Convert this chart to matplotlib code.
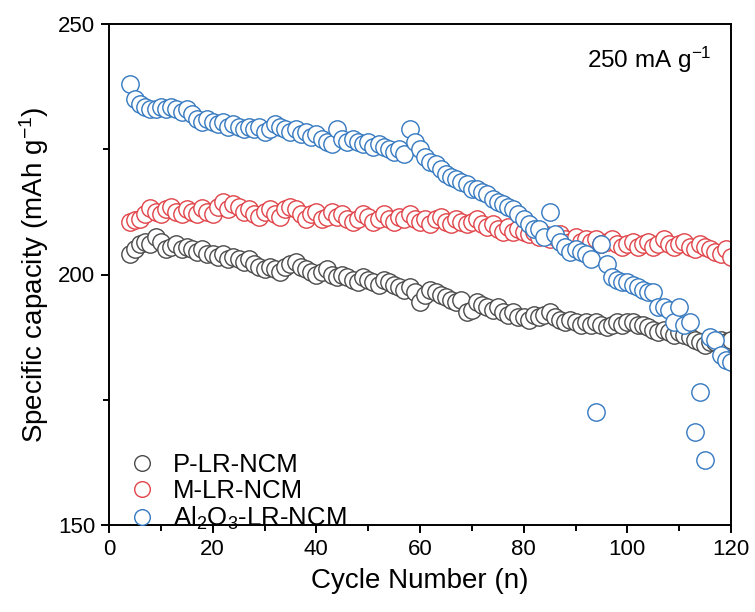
import matplotlib
matplotlib.use("Agg")
import matplotlib.pyplot as plt
from matplotlib.ticker import MultipleLocator

plt.rcParams['font.family'] = ['Liberation Sans', 'DejaVu Sans']
plt.rcParams['mathtext.fontset'] = 'custom'
plt.rcParams['mathtext.rm'] = 'Liberation Sans'
plt.rcParams['mathtext.it'] = 'Liberation Sans:italic'

cycles = list(range(4, 121))

p_lr_ncm = [204, 205, 206, 206.5, 206, 207.5, 206.5, 205, 205.5, 206, 205, 205.5, 205, 204.5, 205, 204,
            204, 203.5, 204, 203, 203.5, 203, 202.5, 203, 202, 201.5, 201, 201.5, 201, 200.5, 201.5, 202,
            202.5, 201.5, 201, 200.5, 200, 200.5, 201, 200, 199.5, 200, 199.5, 199, 198.5, 199.5, 199, 198.5,
            198, 199, 198.5, 198, 197.5, 197, 197.5, 196.5, 194.5, 196, 197, 196.5, 196, 195.5, 195, 194.5,
            195, 192.5, 193, 194.5, 194, 193.5, 193, 193.5, 192.5, 192, 192.5, 191.5, 191.5, 191, 192, 191.5,
            192, 192.5, 191.5, 191, 190.5, 191, 190.5, 190, 190.5, 190, 190.5, 190, 189.5, 190, 190.5, 190,
            190.5, 190.5, 190, 190, 189.5, 189, 188.5, 189, 188.5, 188, 188.5, 188, 187.5, 187, 186.5, 186,
            186.5, 186.5, 187, 186.5, 187]

m_lr_ncm = [210.5, 210.8, 211, 212, 213.3, 212.5, 212, 213, 213.5, 212.5, 212, 213, 212.5, 212, 213.3, 212.5,
            212, 213.5, 214.5, 213, 214, 213.5, 212.5, 213, 212, 211.5, 212.5, 213, 212, 211.5, 213, 213.5,
            213, 212, 211, 212, 212.5, 211, 211.5, 212.5, 211.5, 212, 211, 210.5, 211, 212, 211.5, 210.5,
            211, 212, 211, 210.5, 211.5, 211, 212, 211, 210.5, 211, 210, 211, 211.5, 210.5, 210, 211,
            210.5, 210, 210.5, 211, 210, 209.5, 210, 209, 208.5, 209.5, 208.5, 209, 208.5, 208, 208.5, 207.5,
            208, 207, 207.5, 208, 207, 206.5, 207.5, 206.5, 207, 206.5, 207, 206, 206.5, 207, 206, 205.5,
            206, 206.5, 205.5, 206, 206.5, 205.5, 206, 207, 206, 205.5, 206, 206.5, 205.5, 205, 206, 205.5,
            205, 204.5, 204, 205, 203.5]

al2o3_lr_ncm = [238, 235, 234, 233.5, 233, 233, 233.5, 233, 233.5, 233, 232.5, 233, 232, 231, 230.5, 231,
                230.5, 230, 230.5, 229.5, 230, 229.5, 229, 229.5, 229, 229.5, 228.5, 229, 230, 229.5, 229, 228.5,
                229, 228, 228.5, 227.5, 228, 227, 226.5, 226, 229, 227, 226.5, 227, 226.5, 226, 226.5, 225.5,
                226, 225.5, 225, 224.5, 225, 224, 229, 226.5, 225, 223.5, 222.5, 222, 221, 220, 219.5, 219,
                218.5, 218, 217, 217, 216.5, 216, 215, 214.5, 214, 213.5, 213, 212, 211, 210, 209, 209,
                207.5, 212.5, 208, 206.5, 205.5, 204.5, 205, 204.5, 204, 203, 172.5, 206, 202, 199.5, 199, 198.5,
                198.5, 198, 197.5, 197, 196.5, 196.5, 193.5, 193.5, 193, 190.5, 193.5, 190, 190.5, 168.5, 176.5, 163,
                187.5, 187, 184, 183, 182.5]

labels = ['P-LR-NCM', 'M-LR-NCM', 'Al$_2$O$_3$-LR-NCM']
colors = ['#4a4a4a', '#e04348', '#3478c0']

fig = plt.figure(figsize=(7.55, 6.12), dpi=100)
ax = fig.add_axes([109/755, 1-525/612, (731-109)/755, (525-24)/612])

for ys, lab, c in zip([p_lr_ncm, m_lr_ncm, al2o3_lr_ncm], labels, colors):
    ax.plot(cycles, ys, linestyle='none', marker='o', markersize=12.5,
            markerfacecolor='white', markeredgecolor=c, markeredgewidth=1.0, label=lab)

ax.set_xlim(0, 120)
ax.set_ylim(150, 250)
ax.xaxis.set_major_locator(MultipleLocator(20))
ax.xaxis.set_minor_locator(MultipleLocator(10))
ax.yaxis.set_major_locator(MultipleLocator(50))
ax.yaxis.set_minor_locator(MultipleLocator(25))
ax.tick_params(which='major', direction='out', length=6, width=1.4, labelsize=16, pad=4)
ax.tick_params(which='minor', direction='out', length=4, width=1.4)
for s in ax.spines.values():
    s.set_linewidth(1.4)

ax.set_xlabel('Cycle Number (n)', fontsize=20, labelpad=6)
ax.set_ylabel('Specific capacity (mAh g$^{-1}$)', fontsize=20, labelpad=5)

ax.text(0.968, 0.958, '250 mA g$^{-1}$', transform=ax.transAxes, ha='right', va='top', fontsize=17.5)

leg = ax.legend(loc='lower left', frameon=False, fontsize=18.5, markerscale=0.9,
                handlelength=1.2, handletextpad=0.6, labelspacing=0.08,
                bbox_to_anchor=(0.012, -0.035), borderaxespad=0.0)

fig.savefig('out.png', dpi=100)
